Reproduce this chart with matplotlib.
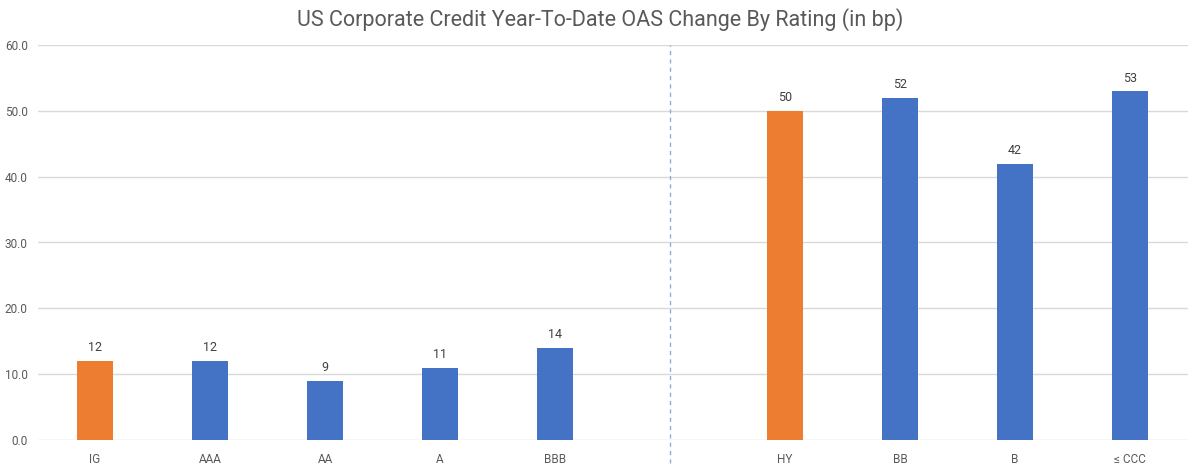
import numpy as np
import matplotlib
matplotlib.use("Agg")
import matplotlib.pyplot as plt

# blank slot between IG group and HY group
categories = ["IG", "AAA", "AA", "A", "BBB", "", "HY", "BB", "B", "\u2264 CCC"]
values = [12, 12, 9, 11, 14, None, 50, 52, 42, 53]
is_index = [True, False, False, False, False, False, True, False, False, False]
y_ticks = [0, 10, 20, 30, 40, 50, 60]

orange = "#ED7D31"
blue = "#4472C4"
grey = "#595959"

plt.rcParams['font.family'] = ['Roboto', 'DejaVu Sans']

fig = plt.figure(figsize=(12, 4.69), dpi=100)
ax = fig.add_axes([37.5 / 1200, 1 - 440 / 469, 1150 / 1200, 395 / 469])

x = np.arange(len(categories))
for i, v in enumerate(values):
    if v is None:
        continue
    col = orange if is_index[i] else blue
    ax.bar(x[i], v, width=0.31, color=col, zorder=3)
    ax.text(x[i], v + 1.0, f"{v}", ha="center", va="bottom", fontsize=9, color="#404040")

gap = categories.index("")
ax.plot([x[gap], x[gap]], [-3.5, 60], color="#8FAADC", linestyle=(0, (3, 3)),
        linewidth=1, clip_on=False, zorder=2)

ax.set_xlim(-0.5, len(categories) - 0.5)
ax.set_ylim(0, 60)
ax.set_yticks(y_ticks)
ax.set_yticklabels([f"{t:.1f}" for t in y_ticks])
ax.set_xticks(x)
ax.set_xticklabels(categories)
ax.tick_params(axis="both", length=0, labelsize=8.5, colors=grey)
ax.tick_params(axis="x", pad=9)
ax.tick_params(axis="y", pad=7)
ax.grid(axis="y", color="#D9D9D9", linewidth=1, zorder=0)
for s in ax.spines.values():
    s.set_visible(False)

fig.text(0.5, 1 - 20 / 469, "US Corporate Credit Year-To-Date OAS Change By Rating (in bp)",
         ha="center", va="center", fontsize=15.5, color=grey)

fig.savefig("out.png", dpi=100, facecolor="white")
